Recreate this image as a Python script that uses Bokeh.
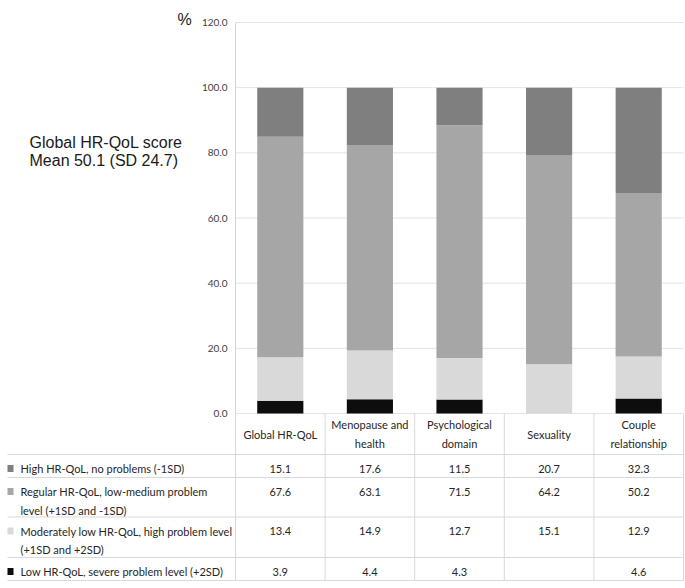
from bokeh.plotting import figure
from bokeh.models import Range1d, ColumnDataSource
from bokeh.embed import file_html
from bokeh.resources import INLINE
from bokeh.core.properties import value

# ---------------- data ----------------
categories = ["Global HR-QoL", "Menopause and health", "Psychological domain",
              "Sexuality", "Couple relationship"]
header_lines = [["Global HR-QoL"], ["Menopause and", "health"], ["Psychological", "domain"],
                ["Sexuality"], ["Couple", "relationship"]]
series_keys = ["high", "regular", "moderate", "low"]
series_labels = [["High HR-QoL, no problems (-1SD)"],
                 ["Regular HR-QoL, low-medium problem", "level (+1SD  and -1SD)"],
                 ["Moderately low HR-QoL, high problem level", "(+1SD and +2SD)"],
                 ["Low HR-QoL, severe problem level (+2SD)"]]
high = [15.1, 17.6, 11.5, 20.7, 32.3]
regular = [67.6, 63.1, 71.5, 64.2, 50.2]
moderate = [13.4, 14.9, 12.7, 15.1, 12.9]
low = [3.9, 4.4, 4.3, None, 4.6]
y_ticks = [0, 20, 40, 60, 80, 100, 120]
y_tick_labels = ["0.0", "20.0", "40.0", "60.0", "80.0", "100.0", "120.0"]
side_note = ["Global HR-QoL score", "Mean 50.1 (SD 24.7)"]
unit_label = "%"
colors = {"high": "#7f7f7f", "regular": "#a6a6a6", "moderate": "#d9d9d9", "low": "#0d0d0d"}

# ---------------- layout (pixels) ----------------
W, H = 685, 588
AX_X, TAB_R = 235, 683          # y-axis / table column area
Y0_PX, Y120_PX = 413, 22        # pixel rows of 0 and 120
N = len(categories)
col_w = (TAB_R - AX_X) / N
ppu = (Y0_PX - Y120_PX) / 120.0
xpos = [i + 0.5 for i in range(N)]

p = figure(width=W, height=H,
           x_range=Range1d(-AX_X / col_w, (W - AX_X) / col_w),
           y_range=Range1d(-(H - Y0_PX) / ppu, 120 + Y120_PX / ppu),
           x_axis_location=None, y_axis_location=None,
           output_backend="svg", toolbar_location=None, min_border=0)
p.extra_x_ranges = {"px": Range1d(0, W)}
p.extra_y_ranges = {"py": Range1d(H, 0)}
p.outline_line_color = None
p.grid.visible = False
p.background_fill_color = "white"
p.border_fill_color = "white"

GRID = "#e3e3e3"
LINE = "#d9d9d9"

# grid lines and y axis
p.segment(x0=[0] * len(y_ticks), x1=[N] * len(y_ticks), y0=y_ticks, y1=y_ticks,
          line_color=GRID, line_width=1)
p.segment(x0=[0], x1=[0], y0=[0], y1=[max(y_ticks)], line_color="#d4d4d4", line_width=1)
p.text(x=[0] * len(y_ticks), y=y_ticks, text=y_tick_labels, x_offset=-8,
       text_font=value("Lato"), text_font_size="10px", text_color="#404040",
       text_align="right", text_baseline="middle")

# ---------------- bars ----------------
low_bar = [v if v is not None else 0 for v in low]
src = ColumnDataSource(dict(x=xpos, low=low_bar, moderate=moderate,
                            regular=regular, high=high))
stack = ["low", "moderate", "regular", "high"]
p.vbar_stack(stack, x="x", width=0.515, source=src,
             fill_color=[colors[k] for k in stack], line_color=None)

# ---------------- table ----------------
TF = "Lato"
TFS = "11px"
TC = "#262626"
TAB_L = 7
header_h = 41
row_h = [23, 39.5, 40.5, 23]
bounds = [Y0_PX, Y0_PX + header_h]
for h in row_h:
    bounds.append(bounds[-1] + h)

hl = bounds[1:]
p.segment(x0=[TAB_L] * len(hl), x1=[TAB_R] * len(hl), y0=hl, y1=hl,
          x_range_name="px", y_range_name="py", line_color=LINE, line_width=1)
vx = [AX_X + col_w * i for i in range(N + 1)]
p.segment(x0=vx, x1=vx, y0=[bounds[0]] * len(vx), y1=[bounds[-1]] * len(vx),
          x_range_name="px", y_range_name="py", line_color=LINE, line_width=1)

# header
LH = 18.5
hx, hy, ht = [], [], []
hc = bounds[0] + header_h / 2
for xc, lines in zip(xpos, header_lines):
    n = len(lines)
    for i, t in enumerate(lines):
        hx.append(xc)
        hy.append(hc + (i - (n - 1) / 2) * LH)
        ht.append(t)
p.text(x=hx, y=hy, text=ht, y_range_name="py", text_font=value(TF),
       text_font_size=TFS, text_color=TC, text_align="center", text_baseline="middle")

# values
series_vals = {"high": high, "regular": regular, "moderate": moderate, "low": low}
vxs, vys, vts = [], [], []
for r, k in enumerate(series_keys):
    yc = bounds[r + 1] + 14
    for xc, v in zip(xpos, series_vals[k]):
        vxs.append(xc)
        vys.append(yc)
        vts.append("" if v is None else f"{v:.1f}")
p.text(x=vxs, y=vys, text=vts, y_range_name="py", text_font=value(TF),
       text_font_size=TFS, text_color=TC, text_align="center", text_baseline="middle")

# row labels with colour keys
kx0, kx1, ky0, ky1, kc = [], [], [], [], []
lx, ly, lt = [], [], []
for r, k in enumerate(series_keys):
    yc = bounds[r + 1] + 14
    kx0.append(TAB_L); kx1.append(TAB_L + 6)
    ky0.append(yc - 3.5); ky1.append(yc + 3.5); kc.append(colors[k])
    for i, t in enumerate(series_labels[r]):
        lx.append(TAB_L + 13)
        ly.append(yc + i * LH)
        lt.append(t)
p.quad(left=kx0, right=kx1, top=ky0, bottom=ky1, fill_color=kc, line_color=None,
       x_range_name="px", y_range_name="py")
p.text(x=lx, y=ly, text=lt, x_range_name="px", y_range_name="py",
       text_font=value(TF), text_font_size=TFS, text_color=TC,
       text_align="left", text_baseline="middle")

# side texts
p.text(x=[177], y=[19], text=[unit_label], x_range_name="px", y_range_name="py",
       text_font=value("Liberation Sans"), text_font_size="16px",
       text_color="#1a1a1a", text_align="left", text_baseline="middle")
p.text(x=[29, 29], y=[141.7, 160], text=side_note, x_range_name="px", y_range_name="py",
       text_font=value("Liberation Sans"), text_font_size="16px",
       text_color="#1a1a1a", text_align="left", text_baseline="alphabetic")

open("out.html", "w").write(file_html(p, INLINE))
